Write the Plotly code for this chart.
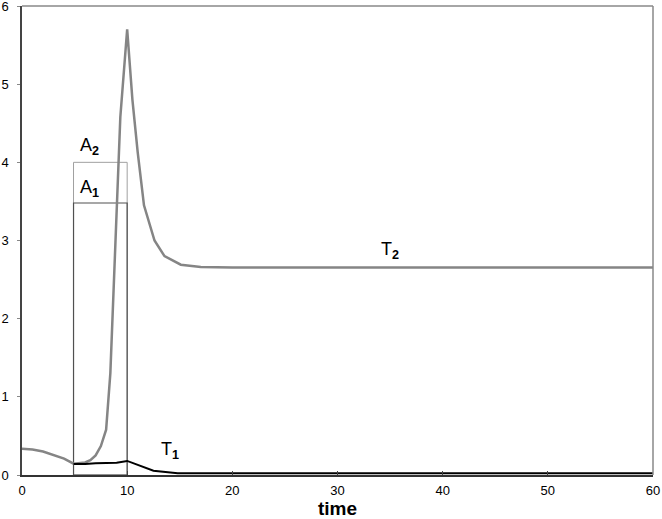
import plotly.graph_objects as go

# T2 (gray) curve
t2_time = [0, 1, 2, 3, 4, 4.9, 6, 6.5, 7, 7.5, 8, 8.4, 8.7, 9.0, 9.35, 10.0, 10.5, 11.0, 11.6, 12.6, 13.55, 15.1, 17, 20, 30, 40, 50, 60]
t2_vals = [0.335, 0.325, 0.30, 0.26, 0.21, 0.145, 0.16, 0.19, 0.25, 0.37, 0.58, 1.3, 2.36, 3.43, 4.58, 5.70, 4.80, 4.13, 3.45, 3.00, 2.80, 2.69, 2.66, 2.655, 2.655, 2.655, 2.655, 2.655]

# T1 (black) curve
t1_time = [4.9, 6, 7, 8, 9, 10, 11, 12.5, 14.8, 20, 30, 40, 50, 60]
t1_vals = [0.14, 0.14, 0.15, 0.15, 0.157, 0.18, 0.13, 0.055, 0.022, 0.022, 0.022, 0.022, 0.022, 0.022]

# Rectangles A1, A2: [x0, x1, height]
a1_box = [4.9, 10.0, 3.48]
a2_box = [4.9, 10.0, 4.0]

x_ticks = [0, 10, 20, 30, 40, 50, 60]
y_ticks = [0, 1, 2, 3, 4, 5, 6]

fig = go.Figure()

# A2 rectangle (light gray)
fig.add_trace(go.Scatter(
    x=[a2_box[0], a2_box[0], a2_box[1], a2_box[1], a2_box[0]],
    y=[0, a2_box[2], a2_box[2], 0, 0],
    mode="lines", line=dict(color="#a0a0a0", width=1), showlegend=False, hoverinfo="skip"))
# A1 rectangle (dark gray)
fig.add_trace(go.Scatter(
    x=[a1_box[0], a1_box[0], a1_box[1], a1_box[1], a1_box[0]],
    y=[0, a1_box[2], a1_box[2], 0, 0],
    mode="lines", line=dict(color="#505050", width=1.2), showlegend=False, hoverinfo="skip"))

fig.add_trace(go.Scatter(x=t2_time, y=t2_vals, mode="lines",
                         line=dict(color="#858585", width=2.5), showlegend=False))
fig.add_trace(go.Scatter(x=t1_time, y=t1_vals, mode="lines",
                         line=dict(color="#000000", width=2), showlegend=False))

lab_font = dict(family="Liberation Sans, Arial, sans-serif", size=18, color="black")
fig.add_annotation(x=6.4, y=4.2, text="A<sub><b>2</b></sub>", showarrow=False, font=lab_font)
fig.add_annotation(x=6.4, y=3.67, text="A<sub><b>1</b></sub>", showarrow=False, font=lab_font)
fig.add_annotation(x=14.1, y=0.31, text="T<sub><b>1</b></sub>", showarrow=False, font=lab_font)
fig.add_annotation(x=35.0, y=2.87, text="T<sub><b>2</b></sub>", showarrow=False, font=lab_font)

# top and right frame lines
fig.add_shape(type="line", xref="paper", yref="paper", x0=0, x1=1, y0=1, y1=1,
              line=dict(color="#888888", width=1.5))
fig.add_shape(type="line", xref="paper", yref="paper", x0=1, x1=1, y0=0, y1=1,
              line=dict(color="#888888", width=1.5))

fig.update_layout(
    width=662, height=519,
    margin=dict(l=22, r=9, t=6, b=44),
    paper_bgcolor="white", plot_bgcolor="white",
    font=dict(family="Liberation Sans, Arial, sans-serif", size=13, color="black"),
)
fig.update_xaxes(range=[0, 60], tickvals=x_ticks, showgrid=False, zeroline=False,
                 showline=True, linecolor="#333333", linewidth=2,
                 ticks="inside", ticklen=4, tickcolor="#444444",
                 ticklabelstandoff=2, automargin=False, ticklabeloverflow="allow",
                 title=dict(text="<b>time</b>", font=dict(size=19), standoff=2))
fig.update_yaxes(range=[0, 6], tickvals=y_ticks, showgrid=False, zeroline=False,
                 showline=True, linecolor="#444444", linewidth=1.5,
                 ticks="outside", ticklen=3, tickcolor="#888888",
                 ticklabelstandoff=6, automargin=False, ticklabeloverflow="allow")

fig.write_html("out.html", config={"displayModeBar": False},
               post_script="document.body.style.margin='0';document.body.style.padding='0';")
